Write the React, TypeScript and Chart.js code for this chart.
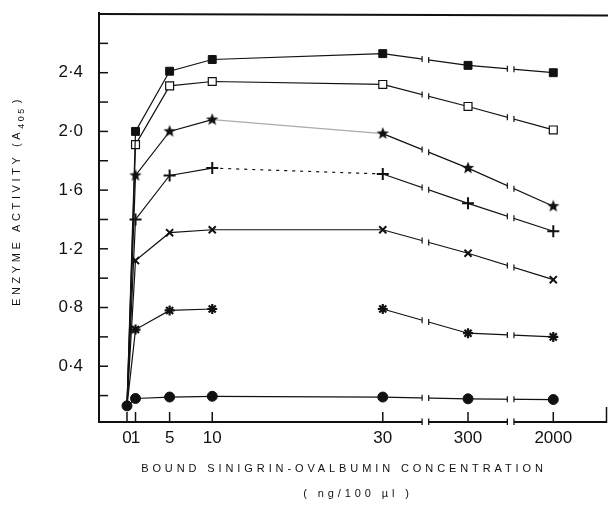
import React, { useEffect, useRef } from 'react';
import { Chart, registerables } from 'chart.js';

Chart.register(...registerables);

// ---- data ----
const xLabels = ['0', '1', '5', '10', '30', '300', '2000'];
// position of each concentration on the broken x axis
const xPositions = [0, 1, 5, 10, 30, 40, 50];
const axisBreaks = [35, 45];

const yTickValues = [0.2, 0.4, 0.6, 0.8, 1.0, 1.2, 1.4, 1.6, 1.8, 2.0, 2.2, 2.4, 2.6];
const yLabelValues = [0.4, 0.8, 1.2, 1.6, 2.0, 2.4];

const filledSquare = [0.13, 2.0, 2.41, 2.49, 2.53, 2.45, 2.4];
const openSquare = [0.13, 1.91, 2.31, 2.34, 2.32, 2.17, 2.01];
const filledStar = [0.13, 1.7, 2.0, 2.08, 1.985, 1.75, 1.49];
const plusStar = [0.13, 1.4, 1.7, 1.75, 1.71, 1.51, 1.32];
const xCross = [0.13, 1.12, 1.31, 1.33, 1.33, 1.17, 0.99];
const asterisk = [0.13, 0.65, 0.78, 0.79, 0.79, 0.625, 0.6];
const filledCircle = [0.13, 0.18, 0.19, 0.195, 0.19, 0.178, 0.173];

const FONT = '"Liberation Sans", Arial, sans-serif';
const INK = '#111';

function makeStarImage(size: number, outer: number, inner: number, points: number) {
  const c = document.createElement('canvas');
  c.width = size;
  c.height = size;
  const g = c.getContext('2d')!;
  g.fillStyle = INK;
  g.beginPath();
  const cx = size / 2;
  const cy = size / 2;
  for (let i = 0; i < points * 2; i++) {
    const r = i % 2 === 0 ? outer : inner;
    const a = -Math.PI / 2 + (i * Math.PI) / points;
    const px = cx + r * Math.cos(a);
    const py = cy + r * Math.sin(a);
    if (i === 0) g.moveTo(px, py);
    else g.lineTo(px, py);
  }
  g.closePath();
  g.fill();
  return c;
}

const toXY = (vals: number[]) => vals.map((v, i) => ({ x: xPositions[i], y: v }));

// keep the plot area flush with the right edge (1px margin)
const rightEdgePlugin = {
  id: 'rightEdge',
  afterLayout(chart: any) {
    const target = chart.width - 1;
    const xs = chart.scales.x;
    chart.chartArea.right = target;
    chart.chartArea.width = target - chart.chartArea.left;
    xs.right = target;
    xs.width = target - xs.left;
    xs.configure();
  },
};

const framePlugin = {
  id: 'frame',
  afterDatasetsDraw(chart: any) {
    const { ctx, chartArea: ca, scales } = chart;
    const xs = scales.x;
    const gap = 3.3;
    ctx.save();
    axisBreaks.forEach((b) => {
      const px = xs.getPixelForValue(b);
      ctx.fillStyle = '#fff';
      ctx.fillRect(px - gap, ca.top + 4, 2 * gap, ca.bottom - ca.top);
    });
    ctx.strokeStyle = INK;
    ctx.lineWidth = 1.2;
    axisBreaks.forEach((b) => {
      const px = xs.getPixelForValue(b);
      chart.data.datasets.forEach((_ds: any, di: number) => {
        const pts = chart.getDatasetMeta(di).data;
        for (let i = 0; i < pts.length - 1; i++) {
          const x0 = pts[i].x;
          const x1 = pts[i + 1].x;
          if (x0 < px && x1 > px) {
            [-1, 1].forEach((side) => {
              const cx = px + side * gap;
              const t = (cx - x0) / (x1 - x0);
              const cy = pts[i].y + t * (pts[i + 1].y - pts[i].y);
              ctx.beginPath();
              ctx.moveTo(cx, cy - 3);
              ctx.lineTo(cx, cy + 3);
              ctx.stroke();
            });
          }
        }
      });
    });
    ctx.restore();
  },
  afterDraw(chart: any) {
    const { ctx, chartArea: ca, scales, width } = chart;
    const xs = scales.x;
    const ys = scales.y;
    const gap = 3.3;
    const right = xs.right;
    ctx.save();
    ctx.strokeStyle = INK;
    ctx.lineCap = 'butt';
    // left border
    ctx.lineWidth = 2;
    ctx.beginPath();
    ctx.moveTo(ca.left + 1, ca.top - 2);
    ctx.lineTo(ca.left + 1, ca.bottom + 1);
    ctx.stroke();
    // top border
    ctx.beginPath();
    ctx.moveTo(ca.left, ca.top);
    ctx.lineTo(width, ca.top + 1.5);
    ctx.stroke();
    // bottom axis with breaks
    const by = ca.bottom;
    const bp = axisBreaks.map((b) => xs.getPixelForValue(b));
    const segs = [
      [ca.left, bp[0] - gap],
      [bp[0] + gap, bp[1] - gap],
      [bp[1] + gap, right - 0.5],
    ];
    segs.forEach(([a, c]) => {
      ctx.beginPath();
      ctx.moveTo(a, by);
      ctx.lineTo(c, by);
      ctx.stroke();
    });
    ctx.lineWidth = 1.3;
    bp.forEach((px) => {
      [-gap, gap].forEach((d) => {
        ctx.beginPath();
        ctx.moveTo(px + d, by - 3.5);
        ctx.lineTo(px + d, by + 3);
        ctx.stroke();
      });
    });
    // right stub
    ctx.lineWidth = 1.5;
    ctx.beginPath();
    ctx.moveTo(right - 0.5, by + 1);
    ctx.lineTo(right - 0.5, by - 15);
    ctx.stroke();
    // y ticks (inward)
    ctx.lineWidth = 1.5;
    yTickValues.forEach((v) => {
      const py = ys.getPixelForValue(v);
      ctx.beginPath();
      ctx.moveTo(ca.left, py);
      ctx.lineTo(ca.left + 10, py);
      ctx.stroke();
    });
    // x ticks (inward)
    xPositions.forEach((p) => {
      const px = xs.getPixelForValue(p);
      ctx.beginPath();
      ctx.moveTo(px, by);
      ctx.lineTo(px, by - 10);
      ctx.stroke();
    });

    // x title
    ctx.fillStyle = INK;
    ctx.font = `11px ${FONT}`;
    ctx.textBaseline = 'middle';
    ctx.textAlign = 'left';
    (ctx as any).letterSpacing = '3.9px';
    const t1 = 'BOUND SINIGRIN-OVALBUMIN CONCENTRATION';
    const w1 = ctx.measureText(t1).width;
    ctx.fillText(t1, 344 - w1 / 2, 469);
    const t2 = '( ng/100 µl )';
    const w2 = ctx.measureText(t2).width;
    ctx.fillText(t2, 358 - w2 / 2, 494);

    // y title (rotated)
    ctx.translate(17, 306);
    ctx.rotate(-Math.PI / 2);
    (ctx as any).letterSpacing = '3.6px';
    ctx.font = `11px ${FONT}`;
    const ya = 'ENZYME ACTIVITY (A';
    ctx.fillText(ya, 0, 0);
    const wa = ctx.measureText(ya).width;
    ctx.font = `9px ${FONT}`;
    (ctx as any).letterSpacing = '2.5px';
    ctx.fillText('405', wa, 5);
    const wb = ctx.measureText('405').width;
    ctx.font = `11px ${FONT}`;
    (ctx as any).letterSpacing = '3.6px';
    ctx.fillText(')', wa + wb + 3, 0);
    ctx.restore();
  },
};

export default function App() {
  const ref = useRef<HTMLCanvasElement>(null);

  useEffect(() => {
    if (!ref.current) return;
    const starImg = makeStarImage(14, 6.5, 2.8, 5);
    const hide0 = (r: number) => xPositions.map((_, i) => (i === 0 ? 0 : r));

    const base = {
      borderColor: INK,
      borderWidth: 1.2,
      pointBorderColor: INK,
      tension: 0,
      clip: false as any,
    };

    const chart = new Chart(ref.current, {
      type: 'line',
      data: {
        datasets: [
          {
            ...base,
            label: 'filled square',
            data: toXY(filledSquare),
            pointStyle: 'rect',
            pointRadius: hide0(5.6),
            pointBackgroundColor: INK,
            pointBorderWidth: 1,
          },
          {
            ...base,
            label: 'open square',
            data: toXY(openSquare),
            pointStyle: 'rect',
            pointRadius: hide0(5.6),
            pointBackgroundColor: '#fff',
            pointBorderWidth: 1.2,
          },
          {
            ...base,
            label: 'filled star',
            data: toXY(filledStar),
            pointStyle: starImg as any,
            pointRadius: hide0(5),
            segment: {
              borderColor: (c: any) => (c.p0DataIndex === 3 ? '#aaa' : INK),
            },
          },
          {
            ...base,
            label: 'plus star',
            data: toXY(plusStar),
            pointStyle: 'cross',
            pointRadius: hide0(6),
            pointBorderWidth: 2,
            segment: {
              borderDash: (c: any) => (c.p0DataIndex === 3 ? [3, 5] : undefined),
            },
          },
          {
            ...base,
            label: 'x cross',
            data: toXY(xCross),
            pointStyle: 'crossRot',
            pointRadius: hide0(5),
            pointBorderWidth: 2,
          },
          {
            ...base,
            label: 'asterisk',
            data: toXY(asterisk),
            pointStyle: 'star',
            pointRadius: hide0(5),
            pointBorderWidth: 2.2,
            segment: {
              borderColor: (c: any) => (c.p0DataIndex === 3 ? 'rgba(0,0,0,0)' : INK),
            },
          },
          {
            ...base,
            label: 'filled circle',
            data: toXY(filledCircle),
            pointStyle: 'circle',
            pointRadius: 5,
            pointBackgroundColor: INK,
            pointBorderWidth: 1,
          },
        ],
      },
      options: {
        animation: false,
        responsive: false,
        devicePixelRatio: 1,
        layout: { padding: { top: 14, right: 1, left: 0, bottom: 0 } },
        plugins: {
          legend: { display: false },
          tooltip: { enabled: false },
        },
        scales: {
          x: {
            type: 'linear',
            min: -3.4,
            max: 56.3,
            afterBuildTicks: (s: any) => {
              s.ticks = xPositions.map((v) => ({ value: v }));
            },
            afterFit: (s: any) => {
              s.height = 83;
              s.paddingLeft = 0;
              s.paddingRight = 0;
            },
            grid: { display: false, drawTicks: false },
            border: { display: false },
            ticks: {
              autoSkip: false,
              maxRotation: 0,
              padding: 6,
              color: INK,
              font: { family: FONT, size: 17 },
              callback: (v: any) => {
                const i = xPositions.indexOf(Number(v));
                return i >= 0 ? xLabels[i] : '';
              },
            },
          },
          y: {
            type: 'linear',
            min: 0.02,
            max: 2.8,
            afterBuildTicks: (s: any) => {
              s.ticks = yTickValues.map((v) => ({ value: v }));
            },
            afterFit: (s: any) => {
              s.width = 98;
              s.paddingTop = 0;
              s.paddingBottom = 0;
            },
            grid: { display: false, drawTicks: false },
            border: { display: false },
            ticks: {
              padding: 15,
              color: INK,
              font: { family: FONT, size: 17 },
              callback: (v: any) =>
                yLabelValues.some((l) => Math.abs(l - Number(v)) < 1e-6)
                  ? Number(v).toFixed(1).replace('.', '·')
                  : '',
            },
          },
        },
      },
      plugins: [rightEdgePlugin, framePlugin],
    });
    return () => chart.destroy();
  }, []);

  return (
    <div style={{ position: 'absolute', left: 0, top: 0, width: 608, height: 505, background: '#fff' }}>
      <canvas ref={ref} width={608} height={505} style={{ display: 'block' }} />
    </div>
  );
}
